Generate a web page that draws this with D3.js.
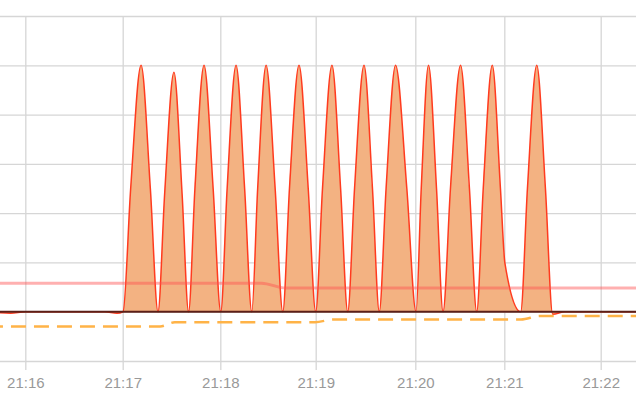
<!DOCTYPE html>
<html>
<head>
<meta charset="utf-8">
<script src="https://cdn.jsdelivr.net/npm/d3@7"></script>
<style>
  body { margin: 0; background: #fff; }
  svg { display: block; }
</style>
</head>
<body>
<div id="chart"></div>
<script>
// tick labels of the time axis
const tickLabels = ["21:16", "21:17", "21:18", "21:19", "21:20", "21:21", "21:22"];

// red series (filled): seconds after 21:16:00 and values
const redSec = [-23, -9, 0, 49, 56.5, 60.2,
  64.9, 71.3, 77.0, 81.7,
  85.8, 91.5, 96.5, 100.5,
  104.4, 110, 115.6, 120.3,
  124.3, 129.9, 135.3, 139.8,
  143.5, 148.8, 154.5, 159.3,
  163.5, 169.5, 175.3, 180,
  184.1, 189.8, 195.0, 199.3,
  203.4, 209.1, 214.2, 218.3,
  222.4, 228.1, 234.9, 240.5,
  244.0, 248.9, 254.3, 258.7,
  263.7, 270.5, 276.5, 281.4,
  285.8, 291.9, 297.4, 300.4, 310.2,
  314.4, 320.2, 325.6, 330.1,
  337.8, 391];
const redVal = [0, -0.03, 0, 0, -0.03, 0,
  2.5, 5, 2.5, 0,
  2.4, 4.86, 2.4, 0,
  2.5, 5, 2.5, 0,
  2.5, 5, 2.5, 0,
  2.5, 5, 2.5, 0,
  2.5, 5, 2.5, 0,
  2.5, 5, 2.5, 0,
  2.5, 5, 2.5, 0,
  2.5, 5, 2.5, 0,
  2.5, 5, 2.5, 0,
  2.5, 5, 2.5, 0,
  2.5, 5, 2.5, 0.98, 0,
  2.5, 5, 2.5, -0.05,
  0, 0];

// pink series
const pinkSec = [-23, 146, 161, 391];
const pinkVal = [0.58, 0.58, 0.48, 0.48];

// orange dashed series
const orangeSec = [-23, 83, 92, 179.6, 190.4, 310.4, 322.2, 391];
const orangeVal = [-0.3, -0.3, -0.215, -0.215, -0.158, -0.158, -0.087, -0.087];

// dark series
const darkSec = [-23, 391];
const darkVal = [0, 0];

const width = 636, height = 401;

const svg = d3.select("#chart")
    .append("svg")
    .attr("width", width)
    .attr("height", height);

const parseHM = d3.timeParse("%H:%M");
const t0 = parseHM(tickLabels[0]);
const toDate = s => new Date(t0.getTime() + s * 1000);
const zip = (secs, vals) => secs.map((s, i) => ({ date: toDate(s), value: vals[i] }));

// x axis: ticks are not evenly spaced in the picture
const x = d3.scaleTime()
    .domain(tickLabels.map(parseHM))
    .range([25.3, 122.7, 220.3, 315.7, 415.3, 504.3, 600.7]);

const y = d3.scaleLinear()
    .domain([-1, 6])
    .range([361, 16]);

// horizontal grid
const gy = svg.append("g")
    .call(d3.axisLeft(y).tickValues(d3.range(-1, 7)).tickSize(-width).tickFormat(""));
gy.select(".domain").remove();
gy.selectAll(".tick line").attr("stroke", "#d6d6d6").attr("stroke-width", 1.3);

// vertical grid + labels
const gx = svg.append("g")
    .attr("transform", "translate(0,370)")
    .call(d3.axisBottom(x)
        .tickValues(tickLabels.map(parseHM))
        .tickSize(-(370 - 16))
        .tickPadding(7)
        .tickFormat(d3.timeFormat("%H:%M")));
gx.select(".domain").remove();
gx.selectAll(".tick line").attr("stroke", "#d6d6d6").attr("stroke-width", 1.3);
gx.selectAll(".tick text")
    .attr("fill", "#999")
    .attr("font-family", "'Liberation Sans', Arial, sans-serif")
    .attr("font-size", 15);

const curve = d3.curveMonotoneX;
const line = d3.line()
    .x(d => x(d.date))
    .y(d => y(d.value))
    .curve(curve);

const redData = zip(redSec, redVal);

// fill under the red series
svg.append("path")
    .datum(redData)
    .attr("fill", "#f3b282")
    .attr("d", d3.area()
        .x(d => x(d.date))
        .y0(y(0))
        .y1(d => y(d.value))
        .curve(curve));

svg.append("path")
    .datum(redData)
    .attr("fill", "none")
    .attr("stroke", "#ff3b1f")
    .attr("stroke-width", 1.5)
    .attr("d", line);

svg.append("path")
    .datum(zip(darkSec, darkVal))
    .attr("fill", "none")
    .attr("stroke", "#5b1f17")
    .attr("stroke-width", 2)
    .attr("d", line);

svg.append("path")
    .datum(zip(pinkSec, pinkVal))
    .attr("fill", "none")
    .attr("stroke", "rgba(255,80,80,0.45)")
    .attr("stroke-width", 3)
    .attr("d", line);

svg.append("path")
    .datum(zip(orangeSec, orangeVal))
    .attr("fill", "none")
    .attr("stroke", "#ffb347")
    .attr("stroke-width", 2.5)
    .attr("stroke-dasharray", "15,8")
    .attr("d", line);
</script>
</body>
</html>
